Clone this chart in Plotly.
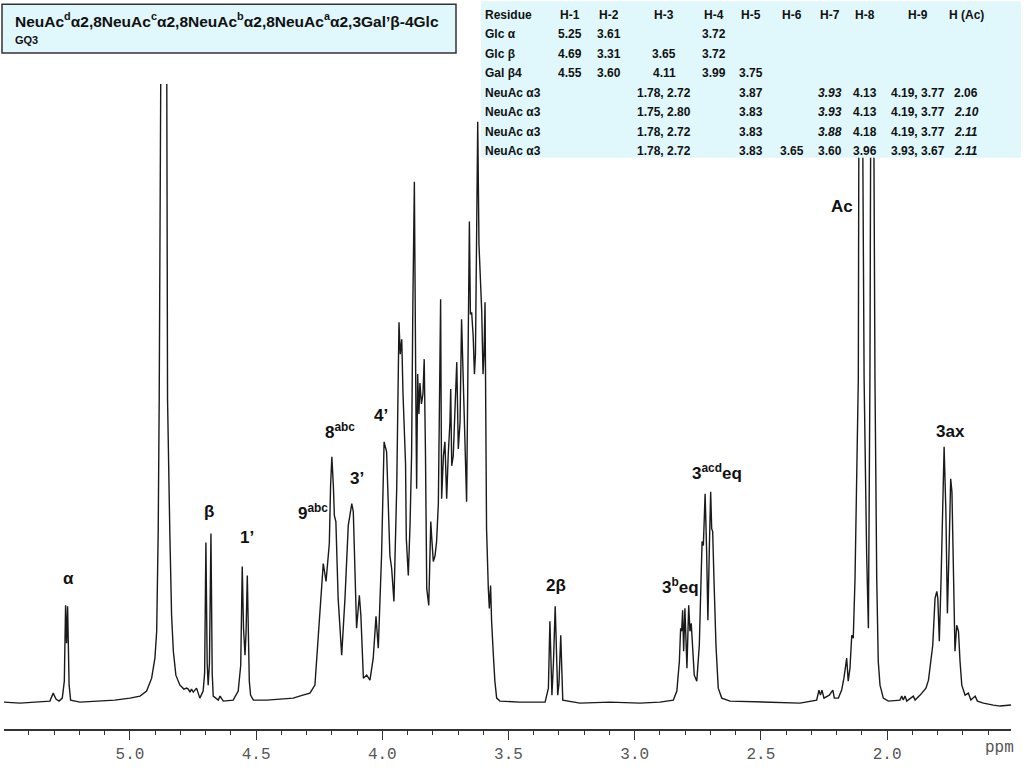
import plotly.graph_objects as go

# ---------------- spectrum trace (ppm, intensity) ----------------
spectrum_ppm = [
    5.499, 5.436, 5.376, 5.317, 5.304, 5.293, 5.281, 5.268, 5.260, 5.255, 5.251, 5.247, 5.241, 5.235,
    5.198, 5.119, 5.060, 5.000, 4.960, 4.934, 4.914, 4.901, 4.894, 4.888, 4.884, 4.878, 4.866, 4.854,
    4.851, 4.842, 4.835, 4.828, 4.818, 4.802, 4.786, 4.775, 4.769, 4.762, 4.756, 4.749, 4.736, 4.723,
    4.710, 4.704, 4.699, 4.694, 4.690, 4.685, 4.679, 4.674, 4.670, 4.650, 4.643, 4.630, 4.591, 4.571,
    4.561, 4.555, 4.550, 4.544, 4.540, 4.535, 4.530, 4.527, 4.522, 4.511, 4.458, 4.406, 4.353, 4.315,
    4.287, 4.267, 4.260, 4.247, 4.234, 4.223, 4.214, 4.210, 4.205, 4.200, 4.194, 4.190, 4.184, 4.175,
    4.161, 4.148, 4.135, 4.121, 4.115, 4.108, 4.102, 4.091, 4.085, 4.075, 4.062, 4.049, 4.036, 4.025,
    4.016, 4.003, 3.993, 3.983, 3.976, 3.970, 3.963, 3.954, 3.943, 3.938, 3.934, 3.929, 3.923, 3.918,
    3.914, 3.908, 3.905, 3.897, 3.890, 3.884, 3.879, 3.873, 3.867, 3.864, 3.860, 3.855, 3.851, 3.845,
    3.839, 3.834, 3.829, 3.824, 3.816, 3.808, 3.804, 3.798, 3.791, 3.785, 3.778, 3.773, 3.769, 3.765,
    3.758, 3.752, 3.745, 3.739, 3.732, 3.729, 3.725, 3.719, 3.712, 3.705, 3.699, 3.692, 3.686, 3.680,
    3.676, 3.671, 3.666, 3.661, 3.655, 3.651, 3.646, 3.640, 3.635, 3.631, 3.627, 3.622, 3.617, 3.613,
    3.606, 3.601, 3.597, 3.593, 3.591, 3.589, 3.587, 3.580, 3.576, 3.571, 3.567, 3.560, 3.554, 3.547,
    3.534, 3.455, 3.355, 3.342, 3.336, 3.328, 3.322, 3.315, 3.305, 3.300, 3.293, 3.285, 3.217, 3.098,
    2.979, 2.900, 2.847, 2.833, 2.823, 2.818, 2.814, 2.810, 2.806, 2.801, 2.797, 2.793, 2.786, 2.781,
    2.776, 2.770, 2.764, 2.754, 2.744, 2.737, 2.733, 2.728, 2.721, 2.715, 2.710, 2.704, 2.699, 2.695,
    2.691, 2.686, 2.678, 2.669, 2.655, 2.622, 2.503, 2.345, 2.279, 2.270, 2.264, 2.258, 2.250, 2.239,
    2.229, 2.215, 2.209, 2.193, 2.180, 2.171, 2.160, 2.154, 2.147, 2.140, 2.134, 2.127, 2.120, 2.114,
    2.112, 2.104, 2.096, 2.091, 2.081, 2.074, 2.068, 2.059, 2.056, 2.052, 2.048, 2.041, 2.035, 2.028,
    2.015, 1.995, 1.949, 1.942, 1.936, 1.929, 1.922, 1.896, 1.889, 1.869, 1.856, 1.846, 1.836, 1.830,
    1.819, 1.810, 1.803, 1.799, 1.793, 1.786, 1.781, 1.774, 1.767, 1.761, 1.754, 1.748, 1.743, 1.737,
    1.731, 1.724, 1.717, 1.711, 1.704, 1.691, 1.678, 1.668, 1.651, 1.642, 1.618, 1.579, 1.552, 1.509,
]
spectrum_int = [
    1, 0, 1, 2, 10, 4, 2, 5, 22, 98, 60, 97, 18, 3,
    1, 2, 3, 5, 7, 12, 25, 45, 72, 172, 305, 622, 1500, 622,
    305, 172, 88, 52, 28, 18, 14, 15, 14, 11, 14, 11, 15, 5,
    12, 30, 161, 40, 18, 40, 170, 30, 7, 3, 7, 2, 3, 12,
    38, 137, 75, 48, 70, 128, 50, 22, 8, 3, 3, 4, 5, 8,
    10, 18, 45, 88, 140, 122, 155, 160, 218, 247, 218, 188, 182, 105,
    48, 105, 178, 200, 192, 132, 75, 108, 88, 25, 28, 23, 45, 87,
    55, 148, 262, 252, 200, 148, 135, 102, 215, 330, 382, 350, 365, 310,
    282, 240, 165, 128, 180, 250, 400, 523, 300, 215, 330, 290, 321, 300,
    310, 345, 250, 115, 98, 182, 165, 142, 148, 162, 200, 300, 405, 205,
    248, 262, 205, 248, 282, 315, 238, 248, 288, 342, 255, 282, 385, 330,
    308, 250, 202, 330, 483, 390, 392, 368, 330, 350, 450, 583, 460, 435,
    392, 330, 350, 402, 300, 232, 175, 115, 95, 118, 82, 48, 22, 5,
    2, 1, 1, 15, 82, 8, 40, 97, 8, 20, 68, 3, 0, 1,
    0, 1, 3, 12, 42, 75, 72, 93, 52, 95, 58, 35, 98, 72,
    80, 58, 28, 22, 58, 125, 162, 158, 210, 152, 83, 158, 212, 175,
    172, 125, 58, 15, 5, 2, 1, 0, 3, 13, 8, 13, 5, 7,
    8, 13, 5, 5, 13, 25, 45, 22, 35, 68, 65, 125, 225, 325,
    547, 1300, 547, 325, 150, 75, 325, 547, 1300, 547, 325, 125, 42, 18,
    5, 2, 3, 7, 3, 7, 2, 7, 3, 8, 12, 15, 23, 35,
    58, 105, 112, 105, 62, 125, 192, 257, 192, 90, 158, 225, 212, 125,
    52, 78, 72, 42, 18, 8, 10, 3, 7, 2, 0, -2, -3, -2,
]

# ---------------- peak labels ----------------
label_text = ["α", "β", "1’", "9<sup>abc</sup>", "8<sup>abc</sup>", "3’", "4’",
              "2β", "3<sup>b</sup>eq", "3<sup>acd</sup>eq", "Ac", "3ax"]
label_ppm = [5.245, 4.687, 4.535, 4.274, 4.168, 4.099, 4.007, 3.313, 2.820, 2.675, 2.180, 1.750]
label_int = [125, 192, 166, 192, 273, 225, 288, 118, 117, 232, 498, 272]

# ---------------- title box ----------------
title_main = "NeuAc<sup>d</sup>α2,8NeuAc<sup>c</sup>α2,8NeuAc<sup>b</sup>α2,8NeuAc<sup>a</sup>α2,3Gal’β-4Glc"
title_sub = "GQ3"

# ---------------- chemical shift table ----------------
table_header = ["Residue", "H-1", "H-2", "H-3", "H-4", "H-5", "H-6", "H-7", "H-8", "H-9", "H (Ac)"]
table_rows = [
    ["Glc α",    "5.25", "3.61", "",           "3.72", "",     "",     "",     "",     "",           ""],
    ["Glc β",    "4.69", "3.31", "3.65",       "3.72", "",     "",     "",     "",     "",           ""],
    ["Gal β4",   "4.55", "3.60", "4.11",       "3.99", "3.75", "",     "",     "",     "",           ""],
    ["NeuAc α3", "",     "",     "1.78, 2.72", "",     "3.87", "",     "3.93", "4.13", "4.19, 3.77", "2.06"],
    ["NeuAc α3", "",     "",     "1.75, 2.80", "",     "3.83", "",     "3.93", "4.13", "4.19, 3.77", "2.10"],
    ["NeuAc α3", "",     "",     "1.78, 2.72", "",     "3.83", "",     "3.88", "4.18", "4.19, 3.77", "2.11"],
    ["NeuAc α3", "",     "",     "1.78, 2.72", "",     "3.83", "3.65", "3.60", "3.96", "3.93, 3.67", "2.11"],
]
italic_cells = [(3, 7), (4, 7), (5, 7), (4, 10), (5, 10), (6, 10)]

# ---------------- layout geometry (pixels) ----------------
W, H = 1024, 768
ML, MR, MT, MB = 4, 13, 84, 37
PW, PH = W - ML - MR, H - MT - MB


def pxx(x):
    return (x - ML) / PW


def pxy(y):
    return (H - MB - y) / PH


col_x = [483, 570, 609.3, 664.3, 714, 751, 791.7, 830, 865, 918.3, 966]
row_y = [15, 34.3, 54, 73.3, 92.7, 112.3, 131.7, 151]

fig = go.Figure()
fig.add_trace(go.Scatter(
    x=spectrum_ppm, y=spectrum_int, mode="lines",
    line=dict(color="#1a1a1a", width=1.4), hoverinfo="skip", showlegend=False,
))

ann = []
lab_font = dict(family="Liberation Sans, Arial, sans-serif", size=17, color="#111111", weight="bold")
for t, xp, yp in zip(label_text, label_ppm, label_int):
    ann.append(dict(x=xp, y=yp, xref="x", yref="y", text=t, showarrow=False,
                    font=lab_font, xanchor="center", yanchor="middle"))

# title text
ann.append(dict(x=pxx(13), y=pxy(20), xref="paper", yref="paper", text=title_main, showarrow=False,
                xanchor="left", yanchor="middle",
                font=dict(family="Liberation Sans, Arial, sans-serif", size=15.5, color="#111111", weight="bold")))
ann.append(dict(x=pxx(13), y=pxy(40), xref="paper", yref="paper", text=title_sub, showarrow=False,
                xanchor="left", yanchor="middle",
                font=dict(family="Liberation Sans, Arial, sans-serif", size=11, color="#111111", weight="bold")))

# table text
tab_font = dict(family="Liberation Sans, Arial, sans-serif", size=12, color="#111111", weight="bold")
all_rows = [table_header] + table_rows
for r, row in enumerate(all_rows):
    for c, val in enumerate(row):
        if not val:
            continue
        txt = val
        if r >= 1 and (r - 1, c) in italic_cells:
            txt = "<i>" + val + "</i>"
        ann.append(dict(x=pxx(col_x[c]), y=pxy(row_y[r]), xref="paper", yref="paper", text=txt,
                        showarrow=False, xanchor="left" if c == 0 else "center", yanchor="middle",
                        font=tab_font))

# ppm axis unit
ann.append(dict(x=pxx(983), y=pxy(750), xref="paper", yref="paper", text="ppm", showarrow=False,
                xanchor="left", yanchor="middle",
                font=dict(family="Liberation Mono, Courier New, monospace", size=16, color="#555555")))

shapes = [
    dict(type="rect", xref="paper", yref="paper", x0=pxx(481), x1=pxx(1021), y0=pxy(1), y1=pxy(158),
         fillcolor="#E0F8FC", line=dict(width=0), layer="above"),
    dict(type="rect", xref="paper", yref="paper", x0=pxx(2), x1=pxx(456), y0=pxy(4), y1=pxy(53),
         fillcolor="#E0F8FC", line=dict(width=1.5, color="#333333"), layer="above"),
]

fig.update_layout(
    width=W, height=H, autosize=False,
    margin=dict(l=ML, r=MR, t=MT, b=MB, pad=0),
    paper_bgcolor="white", plot_bgcolor="white",
    showlegend=False,
    annotations=ann, shapes=shapes,
    xaxis=dict(range=[5.499, 1.509], tickmode="linear", tick0=0, dtick=0.5, tickformat=".1f",
               showgrid=False, zeroline=False, showline=True, linecolor="#333333", linewidth=1.5,
               ticks="outside", ticklen=9, tickwidth=1.2, tickcolor="#333333",
               tickfont=dict(family="Liberation Mono, Courier New, monospace", size=16, color="#555555"),
               minor=dict(dtick=0.1, tick0=0, ticks="outside", ticklen=4, tickwidth=1.1, tickcolor="#333333",
                          showgrid=False)),
    yaxis=dict(range=[-26, 621], visible=False, showgrid=False, zeroline=False),
)

fig.write_html("out.html", config={"displayModeBar": False},
               post_script="document.body.style.margin='0';")
